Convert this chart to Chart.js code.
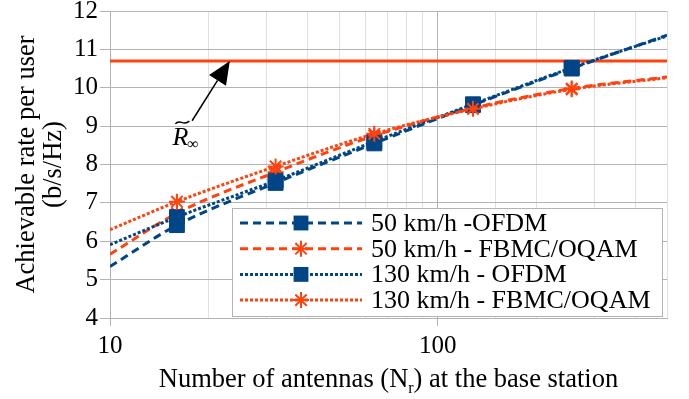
<!DOCTYPE html>
<html>
<head>
<meta charset="utf-8">
<script src="https://cdn.jsdelivr.net/npm/chart.js@4.4.1/dist/chart.umd.min.js"></script>
<style>
  html, body { margin: 0; padding: 0; background: #fff; }
</style>
</head>
<body>
<canvas id="chart" width="689" height="399"></canvas>
<script>
// values
const antennas = [10, 16, 32, 64, 128, 256, 500];
const ofdm50 = [5.34, 6.42, 7.52, 8.55, 9.55, 10.50, 11.37];
const fbmc50 = [5.66, 6.73, 7.80, 8.75, 9.47, 9.98, 10.28];
const ofdm130 = [5.91, 6.63, 7.58, 8.60, 9.57, 10.52, 11.35];
const fbmc130 = [6.30, 7.03, 7.95, 8.80, 9.45, 9.96, 10.26];
const rInfinity = [10.7, 10.7];
const rInfinityX = [10, 500];
const seriesLabels = ['50 km/h -OFDM', '50 km/h - FBMC/OQAM', '130 km/h - OFDM', '130 km/h - FBMC/OQAM'];
const xLabelled = [10, 100];

const BLUE = '#004586';
const ORANGE = '#ff420e';
const GRID_MAJOR = '#b3b3b3';
const GRID_MINOR = '#e0e0e0';
const FONT = '"Liberation Serif", "Times New Roman", serif';

Chart.defaults.font.family = FONT;
Chart.defaults.color = '#000';

const series = [
  { label: seriesLabels[0], values: ofdm50, color: BLUE, dash: [8, 5], marker: 'rect', radius: 10.5 },
  { label: seriesLabels[1], values: fbmc50, color: ORANGE, dash: [8, 5], marker: 'star', radius: 8 },
  { label: seriesLabels[2], values: ofdm130, color: BLUE, dash: [3, 2], marker: 'rect', radius: 10.5 },
  { label: seriesLabels[3], values: fbmc130, color: ORANGE, dash: [3, 2], marker: 'star', radius: 8 }
];

// no marker on the extended ends of the curves
const markerSizes = r => antennas.map((x, i) => (i === 0 || i === antennas.length - 1) ? 0 : r);

const datasets = series.map((s, k) => ({
  label: s.label,
  data: antennas.map((x, i) => ({ x: x, y: s.values[i] })),
  borderColor: s.color,
  backgroundColor: s.color,
  borderWidth: 3,
  borderDash: s.dash,
  cubicInterpolationMode: 'monotone',
  pointStyle: s.marker,
  pointRadius: markerSizes(s.radius),
  pointBackgroundColor: s.color,
  pointBorderColor: s.color,
  pointBorderWidth: s.marker === 'star' ? 2 : 1,
  order: 4 - k
}));

datasets.push({
  label: 'R_inf',
  data: rInfinityX.map((x, i) => ({ x: x, y: rInfinity[i] })),
  borderColor: ORANGE,
  borderWidth: 3,
  pointRadius: 0,
  order: 10
});

function drawMarker(ctx, s, x, y) {
  ctx.save();
  ctx.setLineDash([]);
  ctx.fillStyle = s.color;
  ctx.strokeStyle = s.color;
  if (s.marker === 'rect') {
    const h = s.radius * Math.SQRT1_2;
    ctx.fillRect(x - h, y - h, 2 * h, 2 * h);
  } else {
    ctx.lineWidth = 2;
    ctx.beginPath();
    for (let a = 0; a < 4; a++) {
      const t = a * Math.PI / 4;
      ctx.moveTo(x - Math.sin(t) * s.radius, y - Math.cos(t) * s.radius);
      ctx.lineTo(x + Math.sin(t) * s.radius, y + Math.cos(t) * s.radius);
    }
    ctx.stroke();
  }
  ctx.restore();
}

const overlay = {
  id: 'overlay',
  afterDraw(chart) {
    const ctx = chart.ctx;
    const area = chart.chartArea;
    const xs = chart.scales.x;
    const ys = chart.scales.y;

    // legend box
    const boxL = area.left + 122, boxT = area.top + 197;
    const boxR = area.right - 4, boxB = area.bottom - 1;
    ctx.save();
    ctx.fillStyle = '#fff';
    ctx.fillRect(boxL, boxT, boxR - boxL, boxB - boxT);
    ctx.strokeStyle = GRID_MAJOR;
    ctx.lineWidth = 1;
    ctx.strokeRect(boxL + 0.5, boxT + 0.5, boxR - boxL - 1, boxB - boxT - 1);
    ctx.font = '26px ' + FONT;
    ctx.textBaseline = 'middle';
    ctx.fillStyle = '#000';
    series.forEach((s, i) => {
      const y = boxT + 15 + i * 25.7;
      ctx.save();
      ctx.strokeStyle = s.color;
      ctx.lineWidth = 3;
      ctx.setLineDash(s.dash);
      ctx.beginPath();
      ctx.moveTo(boxL + 8, y);
      ctx.lineTo(boxL + 130, y);
      ctx.stroke();
      ctx.restore();
      drawMarker(ctx, s, boxL + 69, y);
      ctx.fillText(s.label, boxL + 139, y + 1);
    });
    ctx.restore();

    // arrow pointing at the R_inf line
    const tipX = xs.getPixelForValue(23.2), tipY = ys.getPixelForValue(10.7);
    const tailX = xs.getPixelForValue(17.8), tailY = ys.getPixelForValue(9.14);
    const ang = Math.atan2(tipY - tailY, tipX - tailX);
    const headLen = 23, headW = 10;
    const bx = tipX - Math.cos(ang) * headLen, by = tipY - Math.sin(ang) * headLen;
    ctx.save();
    ctx.strokeStyle = '#000';
    ctx.fillStyle = '#000';
    ctx.lineWidth = 1.5;
    ctx.beginPath();
    ctx.moveTo(tailX, tailY);
    ctx.lineTo(bx, by);
    ctx.stroke();
    ctx.beginPath();
    ctx.moveTo(tipX, tipY);
    ctx.lineTo(bx + Math.sin(ang) * headW, by - Math.cos(ang) * headW);
    ctx.lineTo(bx - Math.sin(ang) * headW, by + Math.cos(ang) * headW);
    ctx.closePath();
    ctx.fill();

    // R tilde infinity label
    const lx = xs.getPixelForValue(15.5), ly = ys.getPixelForValue(8.51);
    ctx.font = 'italic 26px ' + FONT;
    ctx.textBaseline = 'alphabetic';
    ctx.fillText('R', lx, ly);
    const rw = ctx.measureText('R').width;
    ctx.font = '16px ' + FONT;
    ctx.fillText('\u221e', lx + rw - 1, ly + 4);
    ctx.lineWidth = 1.4;
    ctx.beginPath();
    ctx.moveTo(lx + 3, ly - 21);
    ctx.bezierCurveTo(lx + 7, ly - 27, lx + 11, ly - 18, lx + 17, ly - 24);
    ctx.stroke();

    // x axis title with subscript
    const big = '26.5px ' + FONT, small = '16px ' + FONT;
    const p1 = 'Number of antennas (N', p2 = 'r', p3 = ') at the base station';
    ctx.font = big;
    const w1 = ctx.measureText(p1).width, w3 = ctx.measureText(p3).width;
    ctx.font = small;
    const w2 = ctx.measureText(p2).width;
    let tx = (area.left + area.right) / 2 - (w1 + w2 + w3) / 2;
    const ty = 387;
    ctx.font = big;
    ctx.fillText(p1, tx, ty);
    tx += w1;
    ctx.font = small;
    ctx.fillText(p2, tx, ty + 6);
    tx += w2;
    ctx.font = big;
    ctx.fillText(p3, tx, ty);
    ctx.restore();
  }
};

new Chart(document.getElementById('chart'), {
  type: 'line',
  data: { datasets: datasets },
  options: {
    responsive: false,
    animation: false,
    devicePixelRatio: 1,
    layout: { padding: { top: 11, right: 22, left: 0, bottom: 0 } },
    plugins: {
      legend: { display: false },
      tooltip: { enabled: false }
    },
    scales: {
      x: {
        type: 'logarithmic',
        min: 10,
        max: 500,
        afterFit: scale => {
          scale.height = 81;
          scale.paddingLeft = 0;
          scale.paddingRight = 0;
        },
        ticks: {
          autoSkip: false,
          maxRotation: 0,
          padding: 5,
          font: { size: 25 },
          callback: v => xLabelled.includes(v) ? String(v) : ''
        },
        grid: {
          color: c => xLabelled.includes(c.tick && c.tick.value) ? GRID_MAJOR : GRID_MINOR,
          tickColor: c => xLabelled.includes(c.tick && c.tick.value) ? GRID_MAJOR : 'rgba(0,0,0,0)',
          tickLength: 8
        },
        border: { color: GRID_MAJOR }
      },
      y: {
        min: 4,
        max: 12,
        afterFit: scale => {
          scale.width = 110;
          scale.paddingTop = 0;
          scale.paddingBottom = 0;
        },
        ticks: {
          stepSize: 0.5,
          padding: 2,
          font: { size: 25 },
          callback: v => Number.isInteger(v) ? String(v) : ''
        },
        grid: {
          color: c => Number.isInteger(c.tick && c.tick.value) ? GRID_MAJOR : GRID_MINOR,
          tickColor: c => Number.isInteger(c.tick && c.tick.value) ? GRID_MAJOR : 'rgba(0,0,0,0)',
          tickLength: 10
        },
        border: { color: GRID_MAJOR },
        title: {
          display: true,
          text: ['Achievable rate per user', '(b/s/Hz)'],
          font: { size: 26.5, lineHeight: 1.0 },
          padding: { top: 14, bottom: 0 }
        }
      }
    }
  },
  plugins: [overlay]
});
</script>
</body>
</html>
